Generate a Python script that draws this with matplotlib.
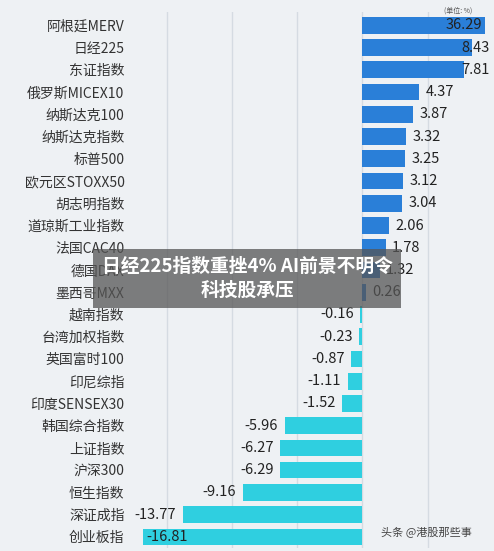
import matplotlib
matplotlib.use("Agg")
import matplotlib.pyplot as plt

plt.rcParams['font.family'] = ['Noto Sans CJK SC', 'DejaVu Sans']

categories = ["阿根廷MERV", "日经225", "东证指数", "俄罗斯MICEX10", "纳斯达克100", "纳斯达克指数",
              "标普500", "欧元区STOXX50", "胡志明指数", "道琼斯工业指数", "法国CAC40", "德国DAX",
              "墨西哥MXX", "越南指数", "台湾加权指数", "英国富时100", "印尼综指", "印度SENSEX30",
              "韩国综合指数", "上证指数", "沪深300", "恒生指数", "深证成指", "创业板指"]
values = [36.29, 8.43, 7.81, 4.37, 3.87, 3.32, 3.25, 3.12, 3.04, 2.06, 1.78, 1.32, 0.26,
          -0.16, -0.23, -0.87, -1.11, -1.52, -5.96, -6.27, -6.29, -9.16, -13.77, -16.81]
value_labels = ["36.29", "8.43", "7.81", "4.37", "3.87", "3.32", "3.25", "3.12", "3.04", "2.06",
                "1.78", "1.32", "0.26", "-0.16", "-0.23", "-0.87", "-1.11", "-1.52", "-5.96",
                "-6.27", "-6.29", "-9.16", "-13.77", "-16.81"]

fig = plt.figure(figsize=(4.94, 5.51), dpi=100, facecolor="#eef1f4")
ax = fig.add_axes([130/494, 3/551, 355/494, 536/551], facecolor="#eef1f4")
xmin, xmax = -17.8, 9.4
y = list(range(len(categories)))
colors = ["#2a7fd8" if v >= 0 else "#2fcfe0" for v in values]
ax.barh(y, values, height=0.75, color=colors)
ax.set_xlim(xmin, xmax)
ax.set_ylim(len(categories) - 0.5, -0.6)
ax.set_yticks(y)
ax.set_yticklabels(categories, fontsize=10, color="#333333")
ax.tick_params(axis="y", length=0, pad=4)
ax.set_xticks([-15, -10, -5, 0, 5])
ax.set_xticklabels([])
ax.tick_params(axis="x", length=0)
ax.grid(axis="x", color="#d5dbe2", lw=1)
ax.set_axisbelow(True)
for s in ax.spines.values():
    s.set_visible(False)
for yi, v, lab in zip(y, values, value_labels):
    if v >= 0:
        if v > 30:
            x = 6.4
        elif v > 7:
            x = 7.6
        else:
            x = v + 0.5
        ax.text(x, yi, lab, ha="left", va="center", fontsize=10.5, color="#222222")
    elif v < -15:
        ax.text(v + 0.3, yi, lab, ha="left", va="center", fontsize=10.5, color="#222222")
    else:
        ax.text(v - 0.5, yi, lab, ha="right", va="center", fontsize=10.5, color="#222222")

fig.text(0.955, 0.988, "(单位: %)", ha="right", va="top", fontsize=5, color="#555555")
fig.text(0.5, 0.495, "日经225指数重挫4% AI前景不明令\n科技股承压", ha="center", va="center",
         fontsize=13.5, fontweight="bold", color="white", linespacing=1.3,
         bbox=dict(boxstyle="square,pad=0.45", fc="#555555", ec="none", alpha=0.75))
fig.text(0.955, 0.035, "头条 @港股那些事", ha="right", va="center", fontsize=8, color="#444444")
fig.savefig("out.png", dpi=100, facecolor=fig.get_facecolor())
